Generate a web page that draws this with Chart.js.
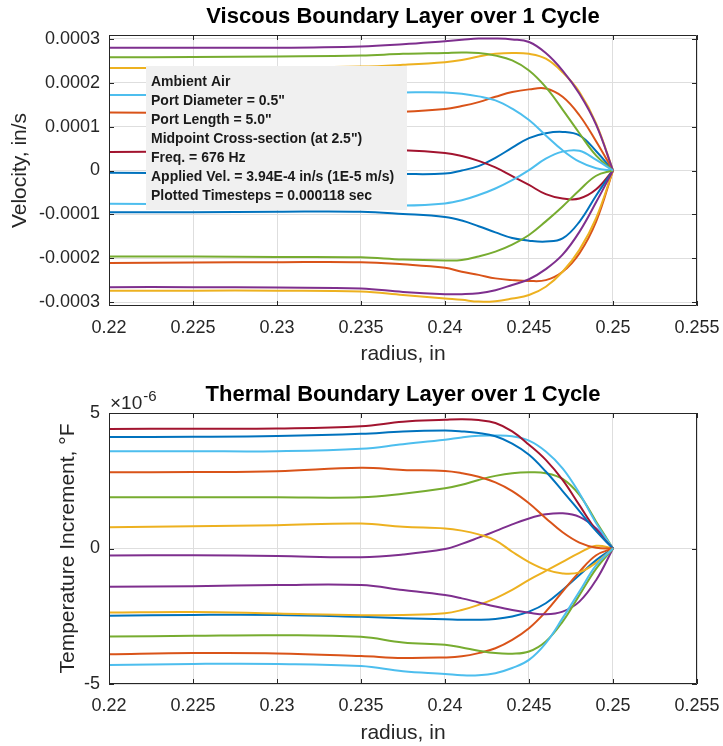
<!DOCTYPE html>
<html>
<head>
<meta charset="utf-8">
<script src="https://cdn.jsdelivr.net/npm/chart.js@4.4.1/dist/chart.umd.min.js"></script>
<style>
  html, body { margin: 0; padding: 0; background: #fff; }
  canvas { display: block; }
</style>
</head>
<body>
<canvas id="vel" width="723" height="373"></canvas>
<canvas id="temp" width="723" height="373"></canvas>
<script>
// radius samples, in
const radius = [0.22, 0.225, 0.23, 0.235, 0.2375, 0.24, 0.241, 0.242, 0.243, 0.244, 0.245, 0.246, 0.247, 0.248, 0.249, 0.25];

const xTicks = [0.22, 0.225, 0.23, 0.235, 0.24, 0.245, 0.25, 0.255];
const xTickLabels = ['0.22', '0.225', '0.23', '0.235', '0.24', '0.245', '0.25', '0.255'];
const velTicks = [-0.0003, -0.0002, -0.0001, 0, 0.0001, 0.0002, 0.0003];
const velTickLabels = ['-0.0003', '-0.0002', '-0.0001', '0', '0.0001', '0.0002', '0.0003'];
const tempTicks = [-5e-6, 0, 5e-6];
const tempTickLabels = ['-5', '0', '5'];

// velocity, units of 1e-4 in/s, one array per timestep
const VEL_UNIT = 1e-4;
const vel01 = [-0.05, -0.06, -0.06, -0.07, -0.08, -0.07, 0.0, 0.10, 0.29, 0.52, 0.74, 0.85, 0.88, 0.80, 0.44, 0];
const vel02 = [1.32, 1.32, 1.33, 1.33, 1.34, 1.40, 1.47, 1.56, 1.68, 1.79, 1.85, 1.87, 1.68, 1.26, 0.66, 0];
const vel03 = [2.34, 2.34, 2.35, 2.37, 2.41, 2.47, 2.52, 2.60, 2.66, 2.68, 2.66, 2.55, 2.24, 1.79, 1.07, 0];
const vel04 = [2.80, 2.80, 2.80, 2.83, 2.88, 2.95, 2.98, 3.01, 3.01, 2.99, 2.93, 2.68, 2.28, 1.75, 1.04, 0];
const vel05 = [2.58, 2.59, 2.60, 2.62, 2.66, 2.68, 2.69, 2.68, 2.62, 2.51, 2.28, 1.90, 1.39, 0.85, 0.34, 0];
const vel06 = [1.72, 1.73, 1.75, 1.77, 1.78, 1.78, 1.75, 1.69, 1.60, 1.41, 1.15, 0.80, 0.46, 0.20, 0.05, 0];
const vel07 = [0.42, 0.43, 0.44, 0.46, 0.46, 0.40, 0.33, 0.22, 0.07, -0.13, -0.33, -0.54, -0.64, -0.64, -0.43, 0];
const vel08 = [-0.95, -0.95, -0.94, -0.94, -0.99, -1.06, -1.14, -1.27, -1.41, -1.54, -1.60, -1.62, -1.55, -1.17, -0.57, 0];
const vel09 = [-2.11, -2.10, -2.09, -2.09, -2.14, -2.22, -2.31, -2.38, -2.46, -2.50, -2.52, -2.50, -2.31, -1.89, -1.16, 0];
const vel10 = [-2.74, -2.74, -2.74, -2.76, -2.84, -2.92, -2.95, -2.99, -2.98, -2.92, -2.84, -2.65, -2.31, -1.81, -1.08, 0];
const vel11 = [-2.66, -2.66, -2.67, -2.69, -2.77, -2.82, -2.82, -2.80, -2.73, -2.61, -2.48, -2.25, -1.92, -1.40, -0.72, 0];
const vel12 = [-1.96, -1.96, -1.97, -1.98, -2.03, -2.05, -2.04, -1.96, -1.85, -1.69, -1.47, -1.16, -0.82, -0.45, -0.12, 0];
const vel13 = [-0.76, -0.77, -0.77, -0.79, -0.80, -0.75, -0.68, -0.56, -0.41, -0.22, 0.01, 0.27, 0.43, 0.45, 0.24, 0];

// temperature increment, units of 1e-6 F
const TEMP_UNIT = 1e-6;
const temp01 = [-2.48, -2.45, -2.45, -2.52, -2.57, -2.61, -2.63, -2.63, -2.60, -2.51, -2.33, -2.02, -1.53, -0.98, -0.43, 0];
const temp02 = [-3.90, -3.86, -3.87, -3.97, -4.04, -4.02, -3.98, -3.86, -3.68, -3.37, -2.94, -2.33, -1.59, -0.86, -0.25, 0];
const temp03 = [-2.36, -2.34, -2.40, -2.46, -2.45, -2.39, -2.27, -2.08, -1.84, -1.53, -1.16, -0.83, -0.49, -0.16, 0.10, 0];
const temp04 = [-0.26, -0.25, -0.28, -0.32, -0.22, -0.02, 0.17, 0.40, 0.64, 0.89, 1.11, 1.26, 1.30, 1.17, 0.74, 0];
const temp05 = [1.89, 1.89, 1.89, 1.89, 2.02, 2.22, 2.35, 2.53, 2.68, 2.78, 2.81, 2.78, 2.57, 1.98, 0.99, 0];
const temp06 = [3.59, 3.59, 3.59, 3.68, 3.85, 4.01, 4.10, 4.16, 4.17, 4.14, 3.98, 3.58, 2.96, 2.04, 0.93, 0];
const temp07 = [4.41, 4.42, 4.43, 4.51, 4.68, 4.75, 4.77, 4.74, 4.63, 4.32, 3.83, 3.27, 2.53, 1.60, 0.68, 0];
const temp08 = [4.11, 4.12, 4.15, 4.23, 4.32, 4.35, 4.32, 4.26, 4.14, 3.87, 3.46, 2.84, 2.12, 1.38, 0.64, 0];
const temp09 = [2.81, 2.82, 2.85, 2.98, 2.90, 2.86, 2.78, 2.65, 2.44, 2.12, 1.67, 1.12, 0.60, 0.22, 0.03, 0];
const temp10 = [0.78, 0.82, 0.86, 0.92, 0.80, 0.74, 0.66, 0.52, 0.30, -0.12, -0.50, -0.78, -0.92, -0.88, -0.52, 0];
const temp11 = [-1.41, -1.39, -1.35, -1.35, -1.53, -1.72, -1.84, -1.99, -2.14, -2.27, -2.37, -2.43, -2.33, -1.96, -1.16, 0];
const temp12 = [-3.25, -3.22, -3.20, -3.26, -3.47, -3.55, -3.65, -3.77, -3.86, -3.88, -3.80, -3.43, -2.70, -1.72, -0.74, 0];
const temp13 = [-4.30, -4.26, -4.26, -4.34, -4.53, -4.63, -4.68, -4.68, -4.60, -4.41, -4.11, -3.49, -2.57, -1.59, -0.61, 0];

const velSeries = [vel01, vel02, vel03, vel04, vel05, vel06, vel07, vel08, vel09, vel10, vel11, vel12, vel13];
const tempSeries = [temp01, temp02, temp03, temp04, temp05, temp06, temp07, temp08, temp09, temp10, temp11, temp12, temp13];

const lineColors = ['#0072BD', '#D95319', '#EDB120', '#7E2F8E', '#77AC30', '#4DBEEE', '#A2142F'];

const noteLines = [
  'Ambient Air',
  'Port Diameter = 0.5"',
  'Port Length = 5.0"',
  'Midpoint Cross-section (at 2.5")',
  'Freq. = 676 Hz',
  'Applied Vel. = 3.94E-4 in/s (1E-5 m/s)',
  'Plotted Timesteps = 0.000118 sec'
];

const FONT = "'Liberation Sans', Arial, Helvetica, sans-serif";
const AXIS_COLOR = '#262626';
const GRID_COLOR = '#dedede';

function buildDatasets(series, unit) {
  return series.map((vals, i) => ({
    data: vals.map((v, j) => ({ x: radius[j], y: v * unit })),
    borderColor: lineColors[i % lineColors.length],
    borderWidth: 2,
    pointRadius: 0,
    tension: 0.4,
    fill: false,
    order: series.length - i
  }));
}

// box round the plot area with inward tick marks, MATLAB style
const boxPlugin = {
  id: 'box',
  afterDraw(chart) {
    const { ctx, chartArea: a, scales } = chart;
    const tl = 5;
    ctx.save();
    ctx.strokeStyle = AXIS_COLOR;
    ctx.lineWidth = 1;
    ctx.beginPath();
    ctx.rect(a.left + 0.5, a.top + 0.5, a.right - a.left - 1, a.bottom - a.top - 1);
    scales.x.ticks.forEach(t => {
      const px = Math.round(scales.x.getPixelForValue(t.value)) + 0.5;
      ctx.moveTo(px, a.bottom); ctx.lineTo(px, a.bottom - tl);
      ctx.moveTo(px, a.top); ctx.lineTo(px, a.top + tl);
    });
    scales.y.ticks.forEach(t => {
      const py = Math.round(scales.y.getPixelForValue(t.value)) + 0.5;
      ctx.moveTo(a.left, py); ctx.lineTo(a.left + tl, py);
      ctx.moveTo(a.right, py); ctx.lineTo(a.right - tl, py);
    });
    ctx.stroke();
    ctx.restore();
  }
};

const notePlugin = {
  id: 'note',
  afterDatasetsDraw(chart) {
    const { ctx } = chart;
    const x0 = 146, y0 = 66, w = 261, h = 144;
    ctx.save();
    ctx.fillStyle = '#f0f0f0';
    ctx.fillRect(x0, y0, w, h);
    ctx.fillStyle = '#1a1a1a';
    ctx.font = 'bold 14px ' + FONT;
    ctx.textBaseline = 'middle';
    ctx.textAlign = 'left';
    noteLines.forEach((s, i) => ctx.fillText(s, x0 + 5, 82 + i * 19.1));
    ctx.restore();
  }
};

const exponentPlugin = {
  id: 'exponent',
  afterDraw(chart) {
    const { ctx, chartArea: a } = chart;
    ctx.save();
    ctx.fillStyle = AXIS_COLOR;
    ctx.textBaseline = 'alphabetic';
    ctx.textAlign = 'left';
    ctx.font = '19px ' + FONT;
    ctx.fillText('\u00d710', a.left + 1, a.top - 4);
    const w = ctx.measureText('\u00d710').width;
    ctx.font = '15px ' + FONT;
    ctx.fillText('-6', a.left + 2 + w, a.top - 12);
    ctx.restore();
  }
};

function makeChart(id, cfg) {
  return new Chart(document.getElementById(id).getContext('2d'), {
    type: 'line',
    data: { datasets: buildDatasets(cfg.series, cfg.unit) },
    options: {
      responsive: false,
      animation: false,
      devicePixelRatio: 1,
      layout: { padding: { left: 0, right: 26, top: 0, bottom: 0 } },
      plugins: {
        legend: { display: false },
        tooltip: { enabled: false },
        title: {
          display: true,
          fullSize: false,
          text: cfg.title,
          color: '#000',
          font: { family: FONT, size: 22, weight: 'bold', lineHeight: 1.2 },
          padding: cfg.titlePad
        }
      },
      scales: {
        x: {
          type: 'linear',
          min: 0.22,
          max: 0.255,
          afterBuildTicks: s => { s.ticks = xTicks.map(v => ({ value: v })); },
          afterFit: s => { s.height = cfg.xHeight; },
          ticks: {
            padding: 2,
            color: AXIS_COLOR,
            font: { family: FONT, size: 18 },
            maxRotation: 0,
            autoSkip: false,
            callback: (v, i) => xTickLabels[i]
          },
          grid: { color: GRID_COLOR, drawTicks: true, tickLength: 9, tickColor: 'rgba(0,0,0,0)' },
          border: { display: false },
          title: {
            display: true,
            text: 'radius, in',
            color: AXIS_COLOR,
            font: { family: FONT, size: 21, lineHeight: 1.2 },
            padding: { top: 0, bottom: cfg.xTitlePad }
          }
        },
        y: {
          min: cfg.yMin,
          max: cfg.yMax,
          afterBuildTicks: s => { s.ticks = cfg.yTicks.map(v => ({ value: v })); },
          afterFit: s => { s.width = 109; },
          ticks: {
            padding: 9,
            color: AXIS_COLOR,
            font: { family: FONT, size: 18 },
            autoSkip: false,
            callback: (v, i) => cfg.yTickLabels[i]
          },
          grid: { color: GRID_COLOR, drawTicks: false },
          border: { display: false },
          title: {
            display: true,
            text: cfg.yTitle,
            color: AXIS_COLOR,
            font: { family: FONT, size: 21, lineHeight: 1.2 },
            padding: { top: cfg.yTitlePad, bottom: 0 }
          }
        }
      }
    },
    plugins: cfg.plugins
  });
}

makeChart('vel', {
  series: velSeries,
  unit: VEL_UNIT,
  title: 'Viscous Boundary Layer over 1 Cycle',
  titlePad: { top: 3.8, bottom: 4.8 },
  xHeight: 67,
  xTitlePad: 6.4,
  yMin: -0.000309,
  yMax: 0.000309,
  yTicks: velTicks,
  yTickLabels: velTickLabels,
  yTitle: 'Velocity, in/s',
  yTitlePad: 7.4,
  plugins: [notePlugin, boxPlugin]
});

makeChart('temp', {
  series: tempSeries,
  unit: TEMP_UNIT,
  title: 'Thermal Boundary Layer over 1 Cycle',
  titlePad: { top: 8.8, bottom: 4.8 },
  xHeight: 62,
  xTitlePad: 0.4,
  yMin: -5e-6,
  yMax: 5e-6,
  yTicks: tempTicks,
  yTickLabels: tempTickLabels,
  yTitle: 'Temperature Increment, \u00b0F',
  yTitlePad: 55.4,
  plugins: [exponentPlugin, boxPlugin]
});
</script>
</body>
</html>
